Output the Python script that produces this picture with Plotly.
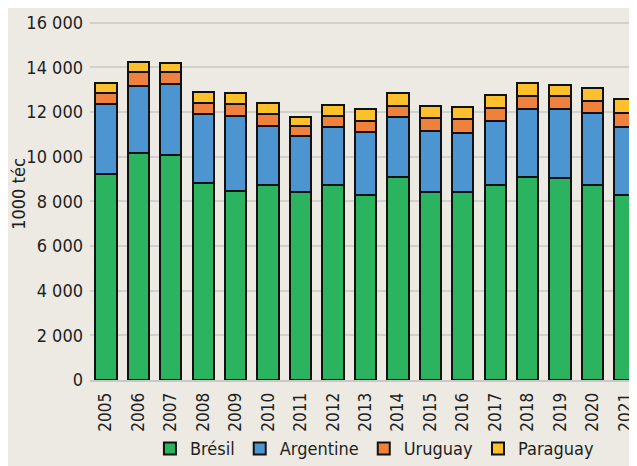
import plotly.graph_objects as go

years = [str(y) for y in range(2005, 2022)]

# 1000 téc
bresil = [9210, 10150, 10060, 8820, 8450, 8750, 8420, 8720, 8300, 9070,
          8420, 8420, 8730, 9070, 9050, 8720, 8300]
argentine = [3140, 3030, 3200, 3080, 3370, 2620, 2510, 2610, 2820, 2690,
             2730, 2650, 2870, 3080, 3100, 3250, 3010]
uruguay = [520, 630, 550, 520, 540, 530, 440, 480, 490, 510,
           570, 600, 580, 580, 570, 540, 660]
paraguay = [420, 410, 370, 480, 510, 490, 420, 490, 510, 580,
            550, 570, 600, 560, 500, 550, 630]

y_ticks = [0, 2000, 4000, 6000, 8000, 10000, 12000, 14000, 16000]
y_labels = ["0", "2 000", "4 000", "6 000", "8 000", "10 000",
            "12 000", "14 000", "16 000"]

series = [
    ("Brésil", bresil, "#2bb35f"),
    ("Argentine", argentine, "#4d95d0"),
    ("Uruguay", uruguay, "#f0813c"),
    ("Paraguay", paraguay, "#fcc02c"),
]

font = "DejaVu Sans Condensed, Liberation Sans Narrow, sans-serif"
bg = "#edeae4"

fig = go.Figure()
for name, vals, col in series:
    fig.add_trace(go.Bar(
        x=years, y=vals, name=name,
        marker=dict(color=col, line=dict(color="#111111", width=2)),
        width=0.66,
    ))

# page body has an 8px margin, so the figure is a bit smaller than the window
fig.update_layout(
    barmode="stack",
    width=629, height=458,
    margin=dict(l=82, r=0, t=0, b=86, autoexpand=False),
    paper_bgcolor=bg, plot_bgcolor=bg,
    font=dict(family=font, size=18, color="#231f20"),
    showlegend=True,
    legend=dict(
        orientation="h", traceorder="normal",
        x=0.52, xanchor="center", y=-0.135, yanchor="top",
        font=dict(size=18), itemwidth=30, tracegroupgap=0,
        bgcolor="rgba(0,0,0,0)",
    ),
    xaxis=dict(
        range=[-0.49, 16.37], tickangle=-90, tickfont=dict(size=17),
        showgrid=False, showline=True, linecolor="#c8c8c8", linewidth=2,
        ticks="", ticklabelstandoff=4, automargin=False,
    ),
    yaxis=dict(
        range=[0, 16660], tickvals=y_ticks, ticktext=y_labels,
        tickfont=dict(size=18), showgrid=True, gridcolor="#d2d0cc", gridwidth=2,
        zeroline=False, ticks="", ticklabelstandoff=6, automargin=False,
        title=dict(text="1000 téc", font=dict(size=18), standoff=4),
    ),
)

fig.write_html("out.html")
